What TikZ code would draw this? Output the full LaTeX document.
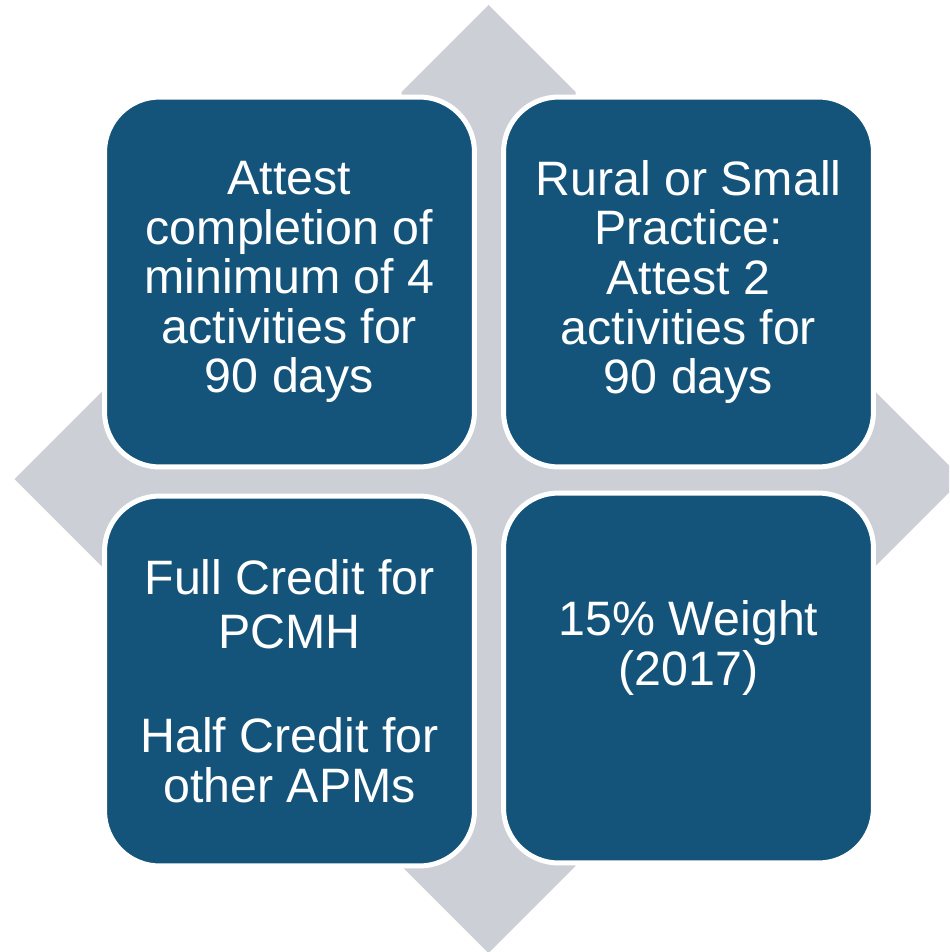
\documentclass[tikz,border=0pt]{standalone}
\usepackage{fontspec}
\setmainfont{Liberation Sans}
\definecolor{tileblue}{RGB}{21,84,122}
\definecolor{arrowgray}{RGB}{204,208,214}

\begin{document}
\begin{tikzpicture}[
    x=0.02cm, y=-0.02cm,
    tiletext/.style={text=white,align=center,font=\fontsize{27.5}{28.2}\selectfont},
    tile/.style={tiletext,draw=white,line width=0.1cm,fill=tileblue,rounded corners=1.1cm,
      minimum width=7.4cm,minimum height=7.4cm},
  ]
  \clip (0,0) rectangle (949,952);

  % Four-way arrow behind the tiles
  \coordinate (c) at (488.5,479);
  \fill[arrowgray,shift={(c)}] (0,-474) -- (87,-387) -- (87,-87) -- (387,-87)
    -- (474,0) -- (387,87) -- (87,87) -- (87,387) -- (0,474) -- (-87,387)
    -- (-87,87) -- (-387,87) -- (-474,0) -- (-387,-87) -- (-87,-87)
    -- (-87,-387) -- cycle;

  % Tiles
  \node[tile] (tl) at (289.5,282) {Attest\\completion of\\minimum of 4\\activities for\\90 days};
  \node[tile] (tr) at (688.5,282) {Rural or Small\\Practice:\\Attest 2\\activities for\\90 days};
  \node[tile] (bl) at (289.5,681) {Full Credit for\\[0.08cm]PCMH\\[1.1cm]Half Credit for\\other APMs};
  \node[tile] (br) at (688.5,678) {};
  \node[tiletext] (brtext) at (688.5,648) {15\% Weight\\(2017)};
\end{tikzpicture}
\end{document}
